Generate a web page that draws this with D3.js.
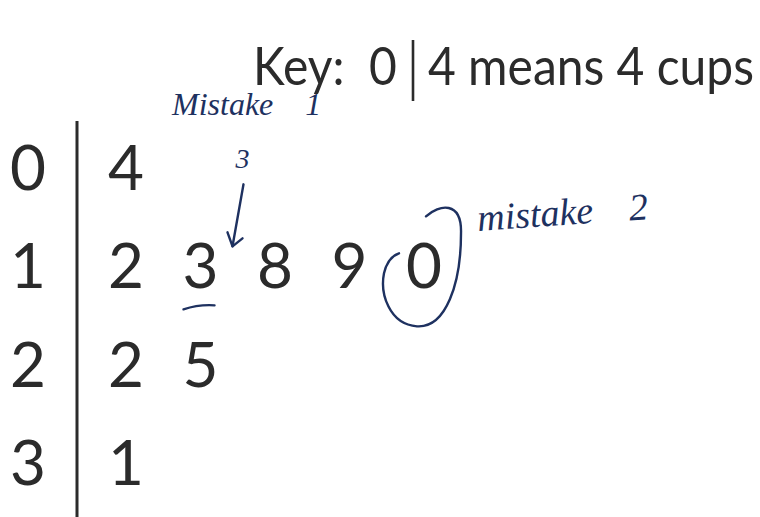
<!DOCTYPE html>
<html>
<head>
<meta charset="utf-8">
<script src="https://cdn.jsdelivr.net/npm/d3@7"></script>
<style>
  html, body { margin: 0; padding: 0; background: #fff; }
  svg { display: block; }
</style>
</head>
<body>
<svg id="plot" width="760" height="517"></svg>
<script>
const W = 760, H = 517;

// stem-and-leaf data (cups)
const stems = [0, 1, 2, 3];
const leaves = [[4], [2, 3, 8, 9, 0], [2, 5], [1]];
const keyStem = 0, keyLeaf = 4, keyUnit = "cups";
const notes = [["Mistake", "1"], ["mistake", "2"]];
const correction = "3";

const ink = "#2b2b2b", pen = "#1e3160";
const digitFont = "Lato, 'Open Sans', sans-serif";
const handFont = "'Liberation Serif', 'DejaVu Serif', serif";

const svg = d3.select("#plot");

const y = d3.scalePoint().domain(stems).range([190, 485]);
const x = d3.scalePoint().domain(d3.range(d3.max(leaves, d => d.length))).range([126, 424]);
const stemX = 28, divX = 77;

// key (stretched a little upright, like the printed face)
const key = svg.append("g").attr("fill", ink).attr("font-family", digitFont).attr("font-size", 48)
  .attr("transform", "translate(0,85) scale(1,1.1) translate(0,-85)");
key.append("text").attr("x", 253).attr("y", 85).text("Key:");
key.append("text").attr("x", 383).attr("y", 85).attr("text-anchor", "middle").text(keyStem);
key.append("text").attr("x", 428).attr("y", 85).text(`${keyLeaf} means ${keyLeaf} ${keyUnit}`);
svg.append("line").attr("x1", 413).attr("x2", 413).attr("y1", 40).attr("y2", 101)
  .attr("stroke", ink).attr("stroke-width", 2.6);

// divider
svg.append("line").attr("x1", divX).attr("x2", divX).attr("y1", 121).attr("y2", H)
  .attr("stroke", ink).attr("stroke-width", 3);

// stems
svg.append("g").selectAll("text").data(stems).join("text")
  .attr("x", stemX).attr("y", d => y(d))
  .attr("text-anchor", "middle")
  .attr("font-family", digitFont).attr("font-size", 62).attr("fill", ink)
  .text(d => d);

// leaves
const rows = svg.append("g").selectAll("g").data(stems).join("g")
  .attr("transform", d => `translate(0,${y(d)})`);
rows.selectAll("text").data((d, i) => leaves[i]).join("text")
  .attr("x", (d, j) => x(j)).attr("y", 0)
  .attr("text-anchor", "middle")
  .attr("font-family", digitFont).attr("font-size", 62).attr("fill", ink)
  .text(d => d);

// handwritten annotations
const hand = svg.append("g").attr("fill", pen).attr("font-family", handFont).attr("font-style", "italic");
const n1 = hand.append("text").attr("x", 172).attr("y", 115).attr("font-size", 32);
n1.append("tspan").text(notes[0][0]);
n1.append("tspan").attr("dx", 32).text(notes[0][1]);
const n2 = hand.append("text").attr("x", 478).attr("y", 231).attr("font-size", 38)
  .attr("transform", "rotate(-4,478,231)");
n2.append("tspan").text(notes[1][0]);
n2.append("tspan").attr("dx", 36).text(notes[1][1]);

const r1 = y(1);
const cx = x(1), ox = x(4);
hand.append("text").attr("x", cx + 42).attr("y", r1 - 120).attr("font-size", 28)
  .attr("text-anchor", "middle").text(correction);

const strokes = svg.append("g").attr("fill", "none").attr("stroke", pen)
  .attr("stroke-width", 2.4).attr("stroke-linecap", "round").attr("stroke-linejoin", "round");
// arrow to the wrong leaf
strokes.append("path").attr("d", `M${cx + 43},${r1 - 104} L${cx + 32},${r1 - 42}`);
strokes.append("path").attr("d", `M${cx + 27},${r1 - 56} L${cx + 32},${r1 - 42} L${cx + 42},${r1 - 50}`);
// underline
strokes.append("path").attr("d", `M${cx - 17},${r1 + 21} Q${cx - 2},${r1 + 16} ${cx + 14},${r1 + 17}`);
// loop around the out-of-order leaf
strokes.append("path").attr("d",
  `M${ox + 2},${r1 - 72} C${ox + 15},${r1 - 84} ${ox + 38},${r1 - 88} ${ox + 37},${r1 - 55}` +
  ` C${ox + 37},${r1 - 5} ${ox + 22},${r1 + 40} ${ox - 7},${r1 + 38}` +
  ` C${ox - 35},${r1 + 36} ${ox - 44},${r1 + 5} ${ox - 40},${r1 - 15}` +
  ` C${ox - 37},${r1 - 28} ${ox - 31},${r1 - 33} ${ox - 25},${r1 - 35}`);
</script>
</body>
</html>
